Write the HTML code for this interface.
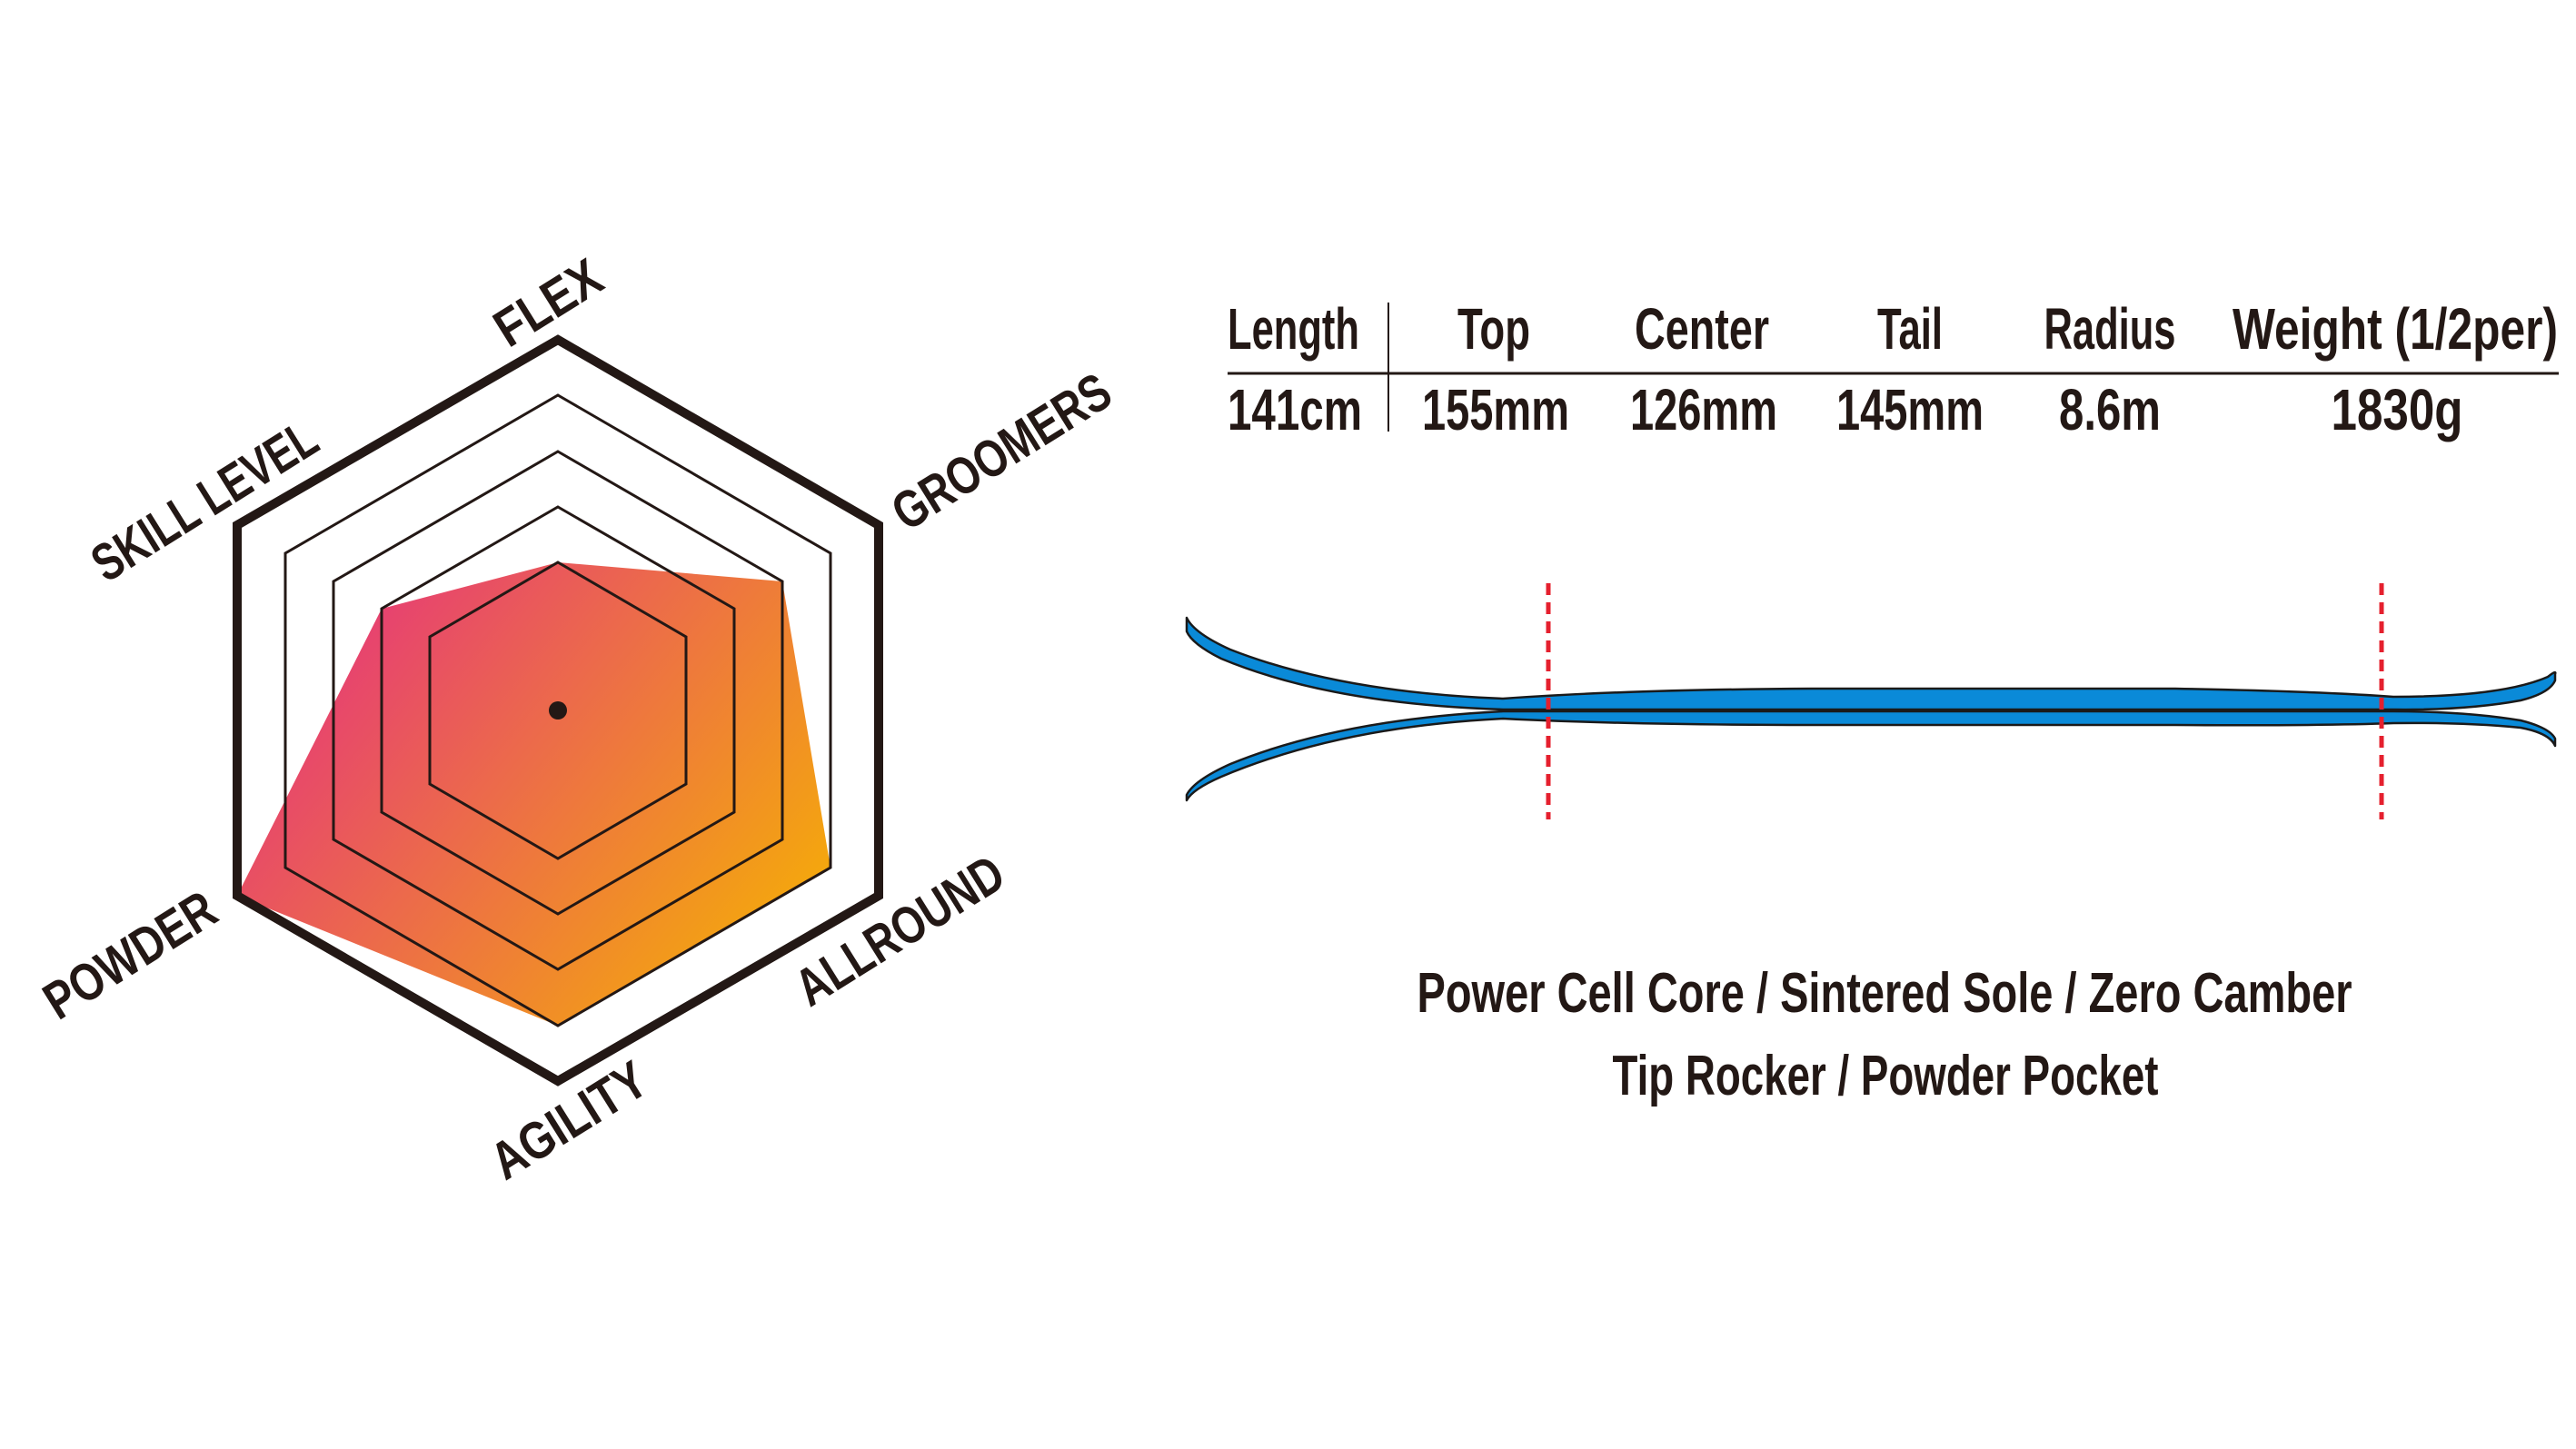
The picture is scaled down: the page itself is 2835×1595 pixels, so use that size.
<!DOCTYPE html>
<html><head><meta charset="utf-8"><style>
html,body{margin:0;padding:0;background:#fff;}
svg{display:block;}
text{font-family:"Liberation Sans Narrow","Liberation Sans",sans-serif;fill:#231815;font-weight:bold;}
</style></head><body>
<svg width="2835" height="1595" viewBox="0 0 2835 1595" xmlns="http://www.w3.org/2000/svg">
<defs>
<linearGradient id="g" x1="270" y1="560" x2="920" y2="1080" gradientUnits="userSpaceOnUse">
<stop offset="0" stop-color="#e2208f"/>
<stop offset="0.5" stop-color="#ec6b4a"/>
<stop offset="1" stop-color="#f6b400"/>
</linearGradient>
</defs>
<rect width="2835" height="1595" fill="#fff"/>
<g transform="translate(-6,-3)">
<polygon fill="url(#g)" points="620,622 867,643 920,958 620,1132 267,989 426,673"/>
<g fill="none" stroke="#231815" stroke-linejoin="miter">
<polygon stroke-width="3" points="620,622 761,704 761,866 620,948 479,866 479,704"/>
<polygon stroke-width="3" points="620,561 814,673 814,897 620,1009 426,897 426,673"/>
<polygon stroke-width="3" points="620,500 867,643 867,927 620,1070 373,927 373,643"/>
<polygon stroke-width="3" points="620,438 920,612 920,958 620,1132 320,958 320,612"/>
<polygon stroke-width="10" points="620,377 973,581 973,989 620,1193 267,989 267,581"/>
</g>
<circle cx="620" cy="785" r="10" fill="#231815"/>
<g font-size="58">
<text transform="translate(609,336) rotate(-32)" text-anchor="middle" y="20" textLength="127" lengthAdjust="spacingAndGlyphs">FLEX</text>
<text transform="translate(1108,500) rotate(-32)" text-anchor="middle" y="20" textLength="271" lengthAdjust="spacingAndGlyphs">GROOMERS</text>
<text transform="translate(231,554) rotate(-32)" text-anchor="middle" y="20" textLength="280" lengthAdjust="spacingAndGlyphs">SKILL LEVEL</text>
<text transform="translate(149,1054) rotate(-32)" text-anchor="middle" y="20" textLength="211" lengthAdjust="spacingAndGlyphs">POWDER</text>
<text transform="translate(632,1236) rotate(-32)" text-anchor="middle" y="20" textLength="190" lengthAdjust="spacingAndGlyphs">AGILITY</text>
<text transform="translate(996,1027) rotate(-32)" text-anchor="middle" y="20" textLength="258" lengthAdjust="spacingAndGlyphs">ALLROUND</text>
</g>
<g font-size="64">
<text x="1357" y="387" textLength="145" lengthAdjust="spacingAndGlyphs">Length</text>
<text x="1650" y="387" text-anchor="middle" textLength="80" lengthAdjust="spacingAndGlyphs">Top</text>
<text x="1879" y="387" text-anchor="middle" textLength="148" lengthAdjust="spacingAndGlyphs">Center</text>
<text x="2108" y="387" text-anchor="middle" textLength="72" lengthAdjust="spacingAndGlyphs">Tail</text>
<text x="2328" y="387" text-anchor="middle" textLength="145" lengthAdjust="spacingAndGlyphs">Radius</text>
<text x="2642" y="387" text-anchor="middle" textLength="358" lengthAdjust="spacingAndGlyphs">Weight (1/2per)</text>
<text x="1357" y="476" textLength="148" lengthAdjust="spacingAndGlyphs">141cm</text>
<text x="1652" y="476" text-anchor="middle" textLength="162" lengthAdjust="spacingAndGlyphs">155mm</text>
<text x="1881" y="476" text-anchor="middle" textLength="162" lengthAdjust="spacingAndGlyphs">126mm</text>
<text x="2108" y="476" text-anchor="middle" textLength="162" lengthAdjust="spacingAndGlyphs">145mm</text>
<text x="2328" y="476" text-anchor="middle" textLength="112" lengthAdjust="spacingAndGlyphs">8.6m</text>
<text x="2644" y="476" text-anchor="middle" textLength="145" lengthAdjust="spacingAndGlyphs">1830g</text>
</g>
<line x1="1357" y1="414" x2="2822" y2="414" stroke="#231815" stroke-width="3"/>
<line x1="1534" y1="336" x2="1534" y2="478" stroke="#231815" stroke-width="2"/>
<g fill="#0a8ad8" stroke="#1a1a1a" stroke-width="2.5" stroke-linejoin="round">
<path d="M1312,683 Q1320,700 1360,718 Q1480,765 1660,772 Q1800,762 2000,761 L2400,761 Q2560,764 2640,770 Q2760,770 2810,748 Q2820,740 2818,745 L2818,752 Q2812,766 2780,774 Q2720,785 2640,784 L1660,784 Q1470,778 1350,728 Q1318,712 1312,698 Z"/>
<path d="M1312,878 Q1320,862 1360,844 Q1480,795 1660,786 L2640,786 Q2720,786 2780,796 Q2812,804 2818,816 L2818,824 Q2812,810 2780,804 Q2720,798 2640,799 Q2560,802 2400,801 L2000,801 Q1800,801 1660,794 Q1480,803 1350,858 Q1318,872 1312,884 Z"/>
</g>
<g stroke="#e5202e" stroke-width="5" stroke-dasharray="13,8">
<line x1="1710" y1="645" x2="1710" y2="905"/>
<line x1="2627" y1="645" x2="2627" y2="905"/>
</g>
<g font-size="62" text-anchor="middle">
<text x="2080" y="1117" textLength="1029" lengthAdjust="spacingAndGlyphs">Power Cell Core / Sintered Sole / Zero Camber</text>
<text x="2081" y="1208" textLength="601" lengthAdjust="spacingAndGlyphs">Tip Rocker / Powder Pocket</text>
</g>
</g>
</svg>
</body></html>
